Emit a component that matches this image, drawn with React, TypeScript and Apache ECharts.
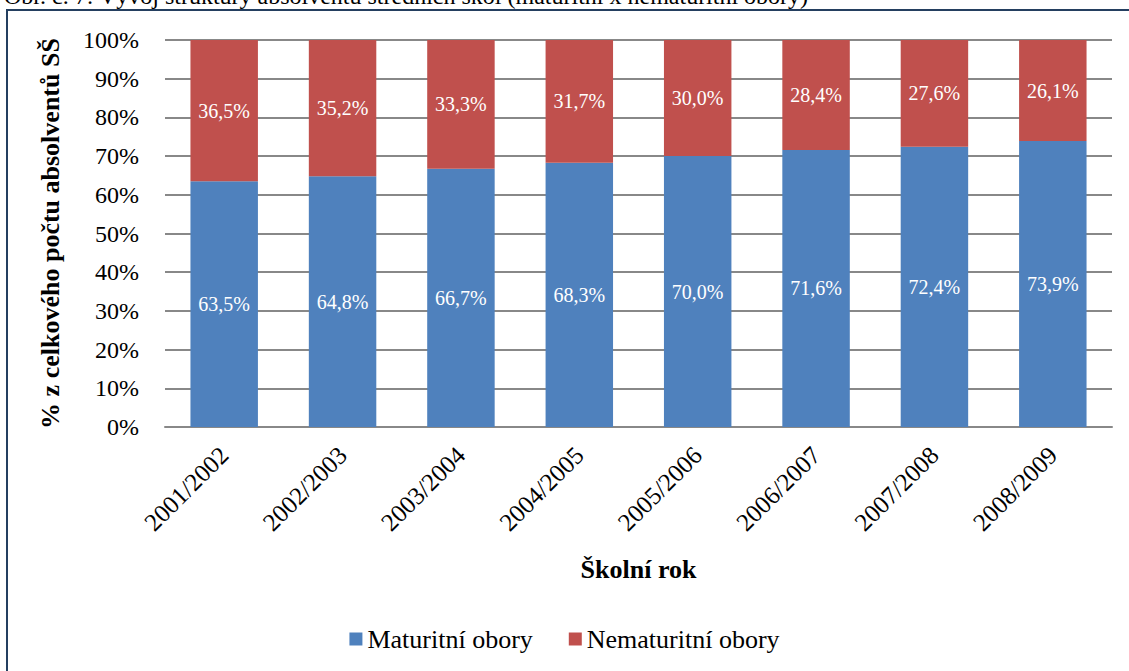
import React, { useEffect, useRef } from "react";
import * as echarts from "echarts";

const categories = ["2001/2002", "2002/2003", "2003/2004", "2004/2005", "2005/2006", "2006/2007", "2007/2008", "2008/2009"];
const maturitni = [63.5, 64.8, 66.7, 68.3, 70.0, 71.6, 72.4, 73.9];
const nematuritni = [36.5, 35.2, 33.3, 31.7, 30.0, 28.4, 27.6, 26.1];
const yTicks = [0, 10, 20, 30, 40, 50, 60, 70, 80, 90, 100];
const seriesNames = ["Maturitní obory", "Nematuritní obory"];
const titleText = "Obr. č. 7: Vývoj struktury absolventů středních škol (maturitní x nematuritní obory)";

const FONT = "serif";
const fmt = (v: number) => v.toFixed(1).replace(".", ",") + "%";

function buildOption() {
  const barLabel = {
    show: true,
    position: "inside",
    color: "#fff",
    fontFamily: FONT,
    fontSize: 20,
    formatter: (p: any) => fmt(p.value),
  };
  return {
    animation: false,
    backgroundColor: "#ffffff",
    textStyle: { fontFamily: FONT },
    graphic: [
      {
        type: "rect",
        shape: { x: 7, y: 10, width: 1140, height: 700 },
        style: { fill: "none", stroke: "#243F60", lineWidth: 2 },
        silent: true,
      },
      {
        type: "text",
        x: 4,
        y: -4,
        style: { text: titleText, fontFamily: FONT, fontSize: 24, fill: "#000", verticalAlign: "middle" },
      },
    ],
    legend: {
      top: 621,
      left: "center",
      itemWidth: 13,
      itemHeight: 13,
      itemGap: 36,
      icon: "rect",
      textStyle: { fontFamily: FONT, fontSize: 26, color: "#000" },
      data: seriesNames,
    },
    grid: { left: 165, right: 17, top: 40, height: 387 },
    xAxis: {
      type: "category",
      data: categories,
      name: "Školní rok",
      nameLocation: "middle",
      nameGap: 129,
      nameTextStyle: { fontFamily: FONT, fontSize: 26, fontWeight: "bold", color: "#000" },
      axisLine: { lineStyle: { color: "#888", width: 2 } },
      axisTick: { show: false },
      axisLabel: { rotate: 45, fontFamily: FONT, fontSize: 25, color: "#000", margin: 24, interval: 0 },
    },
    yAxis: {
      type: "value",
      min: 0,
      max: 100,
      interval: 10,
      name: "% z celkového počtu absolventů SŠ",
      nameLocation: "middle",
      nameGap: 102,
      nameTextStyle: { fontFamily: FONT, fontSize: 26, fontWeight: "bold", color: "#000" },
      axisLine: { show: false },
      axisTick: { show: false },
      axisLabel: {
        fontFamily: FONT,
        fontSize: 24,
        color: "#000",
        margin: 26,
        formatter: (v: number) => (yTicks.includes(v) ? v + "%" : ""),
      },
      splitLine: { lineStyle: { color: "#888", width: 2 } },
    },
    series: [
      {
        name: seriesNames[0],
        type: "bar",
        stack: "total",
        barWidth: "57%",
        data: maturitni,
        itemStyle: { color: "#4F81BD" },
        label: barLabel,
      },
      {
        name: seriesNames[1],
        type: "bar",
        stack: "total",
        barWidth: "57%",
        data: nematuritni,
        itemStyle: { color: "#C0504D" },
        label: barLabel,
      },
    ],
  };
}

export default function App() {
  const ref = useRef<HTMLDivElement>(null);
  useEffect(() => {
    document.body.style.margin = "0";
    const chart = echarts.init(ref.current!, null, { renderer: "svg" });
    chart.setOption(buildOption() as any);
    return () => {
      chart.dispose();
    };
  }, []);
  return <div ref={ref} style={{ position: "fixed", left: 0, top: 0, width: 1129, height: 671 }} />;
}
